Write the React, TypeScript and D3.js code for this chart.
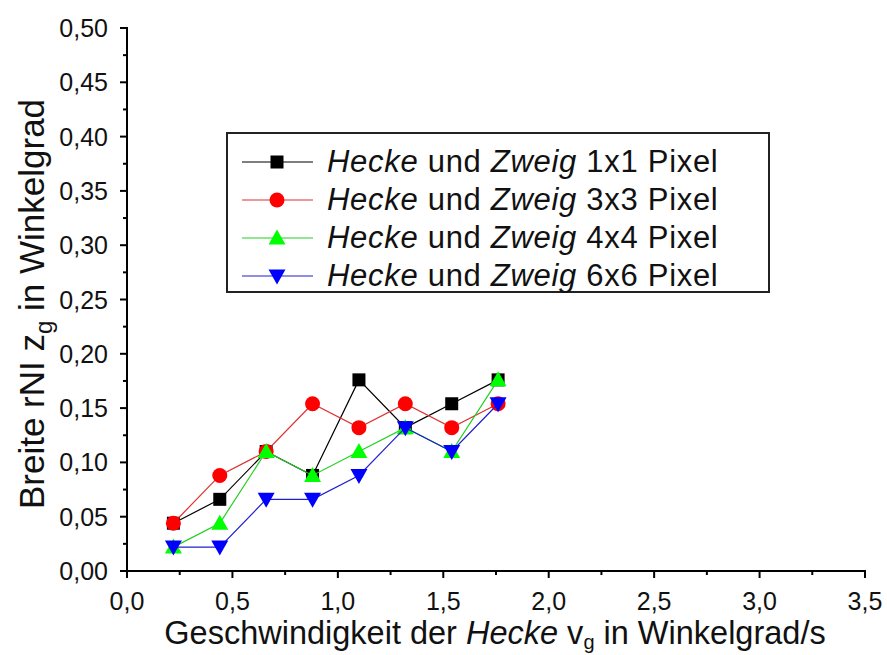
import React from "react";
import * as d3 from "d3";

// Geschwindigkeit der Hecke (Winkelgrad/s)
const speeds = [0.22, 0.44, 0.66, 0.88, 1.1, 1.32, 1.54, 1.76];

// Breite rNI (Winkelgrad) je Pixelgröße
const width1x1 = [0.044, 0.066, 0.11, 0.088, 0.176, 0.132, 0.154, 0.176];
const width3x3 = [0.044, 0.088, 0.11, 0.154, 0.132, 0.154, 0.132, 0.154];
const width4x4 = [0.022, 0.044, 0.11, 0.088, 0.11, 0.132, 0.11, 0.176];
const width6x6 = [0.022, 0.022, 0.066, 0.066, 0.088, 0.132, 0.11, 0.154];

const seriesLabels = ["1x1 Pixel", "3x3 Pixel", "4x4 Pixel", "6x6 Pixel"];
const seriesColors = ["#000000", "#ff0000", "#00ff00", "#0000ff"];
const lineColors = ["#000000", "#e03030", "#20d020", "#2020d0"];
const seriesShapes = ["square", "circle", "triangle", "triangleDown"];
const seriesValues = [width1x1, width3x3, width4x4, width6x6];

const xTicks = [0, 0.5, 1, 1.5, 2, 2.5, 3, 3.5];
const yTicks = [0, 0.05, 0.1, 0.15, 0.2, 0.25, 0.3, 0.35, 0.4, 0.45, 0.5];

const W = 887;
const H = 655;
const left = 127;
const right = 865;
const top = 28;
const bottom = 571;

const FONT = "'Liberation Sans', Arial, sans-serif";

function Marker({ shape, x, y, color }: { shape: string; x: number; y: number; color: string }) {
  if (shape === "square") {
    return <rect x={x - 6.5} y={y - 6.5} width={13} height={13} fill={color} />;
  }
  if (shape === "circle") {
    return <circle cx={x} cy={y} r={7.5} fill={color} />;
  }
  if (shape === "triangle") {
    return <path d={`M${x},${y - 8.5} L${x + 8.5},${y + 6.5} L${x - 8.5},${y + 6.5} Z`} fill={color} />;
  }
  return <path d={`M${x},${y + 8.5} L${x + 8.5},${y - 6.5} L${x - 8.5},${y - 6.5} Z`} fill={color} />;
}

export default function App() {
  const x = d3.scaleLinear().domain([0, 3.5]).range([left, right]);
  const y = d3.scaleLinear().domain([0, 0.5]).range([bottom, top]);
  const line = d3
    .line<[number, number]>()
    .x((d) => x(d[0]))
    .y((d) => y(d[1]));

  const xMinor = d3.range(0, 3.5001, 0.25);
  const yMinor = d3.range(0, 0.5001, 0.025);
  const fmt = (v: number, digits: number) => v.toFixed(digits).replace(".", ",");

  const legendX = 227;
  const legendY = 133;
  const legendW = 542;
  const legendH = 159;
  const rowY = [162, 200, 238, 276];

  return (
    <svg
      width={W}
      height={H}
      style={{ position: "absolute", left: 0, top: 0, background: "#fff" }}
      fontFamily={FONT}
    >
      <rect x={0} y={0} width={W} height={H} fill="#fff" />

      {/* axes */}
      <g stroke="#000" strokeWidth={2} fill="none">
        <line x1={left} y1={top - 1} x2={left} y2={bottom + 1} />
        <line x1={left - 1} y1={bottom} x2={right + 1} y2={bottom} />
        {xMinor.map((t, i) => (
          <line key={"xm" + i} x1={x(t)} x2={x(t)} y1={bottom} y2={bottom + (i % 2 === 0 ? 7 : 4)} />
        ))}
        {yMinor.map((t, i) => (
          <line key={"ym" + i} x1={left} x2={left - (i % 2 === 0 ? 7 : 4)} y1={y(t)} y2={y(t)} />
        ))}
      </g>

      <g fontSize={25} fill="#111">
        {xTicks.map((t) => (
          <text key={"xt" + t} x={x(t)} y={bottom + 39} textAnchor="middle">
            {fmt(t, 1)}
          </text>
        ))}
        {yTicks.map((t) => (
          <text key={"yt" + t} x={left - 19} y={y(t) + 9} textAnchor="end">
            {fmt(t, 2)}
          </text>
        ))}
      </g>

      {/* axis titles */}
      <text x={495} y={644} textAnchor="middle" fontSize={32.5} fill="#111">
        Geschwindigkeit der <tspan fontStyle="italic">Hecke</tspan> v
        <tspan fontSize={20} dy={5}>g</tspan>
        <tspan dy={-5}> in Winkelgrad/s</tspan>
      </text>
      <text
        transform={`translate(44, 304) rotate(-90)`}
        textAnchor="middle"
        fontSize={35}
        fill="#111"
      >
        Breite rNI z<tspan fontSize={24} dy={8}>g</tspan>
        <tspan dy={-8}> in Winkelgrad</tspan>
      </text>

      {/* data */}
      {seriesValues.map((vals, si) => {
        const pts: [number, number][] = speeds.map((s, i) => [s, vals[i]]);
        return (
          <g key={"s" + si}>
            <path d={line(pts) ?? ""} fill="none" stroke={lineColors[si]} strokeWidth={1.2} />
            {pts.map((p, i) => (
              <Marker key={i} shape={seriesShapes[si]} x={x(p[0])} y={y(p[1])} color={seriesColors[si]} />
            ))}
          </g>
        );
      })}

      {/* legend */}
      <rect x={legendX} y={legendY} width={legendW} height={legendH} fill="#fff" stroke="#222" strokeWidth={2} />
      {seriesLabels.map((lab, i) => (
        <g key={"l" + i}>
          <line x1={242} x2={313} y1={rowY[i]} y2={rowY[i]} stroke={lineColors[i]} strokeWidth={1.2} />
          <Marker shape={seriesShapes[i]} x={277} y={rowY[i]} color={seriesColors[i]} />
          <text x={327} y={rowY[i] + 10} fontSize={31} letterSpacing={0.7} fill="#111">
            <tspan fontStyle="italic">Hecke</tspan> und <tspan fontStyle="italic">Zweig</tspan> {lab}
          </text>
        </g>
      ))}
    </svg>
  );
}
